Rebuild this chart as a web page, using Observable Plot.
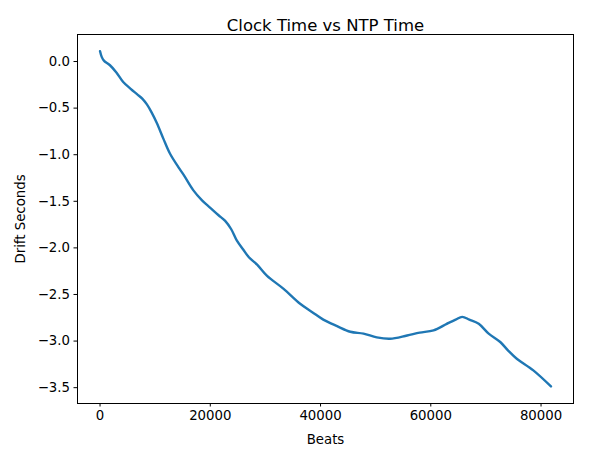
<!DOCTYPE html>
<html>
<head>
<meta charset="utf-8">
<script src="https://cdn.jsdelivr.net/npm/d3@7"></script>
<script src="https://cdn.jsdelivr.net/npm/@observablehq/plot@0.6"></script>
<style>
  html, body { margin: 0; padding: 0; background: #fff; }
  svg { display: block; }
</style>
</head>
<body>
<div id="chart"></div>
<script>
const beats = [0, 300, 700, 1800, 3000, 4200, 5500, 6700, 7700, 8500, 9300, 10300, 11500, 12700, 14400, 15200, 16900, 18500, 20000, 21500, 22700, 23800, 24800, 26000, 27000, 28500, 30300, 33300, 36300, 38500, 40500, 43000, 45400, 47800, 50200, 52600, 55700, 58000, 60500, 62900, 64500, 65700, 67000, 68700, 70500, 72600, 74000, 75600, 78600, 81800];
const drift = [0.11, 0.05, 0.01, -0.04, -0.12, -0.22, -0.29, -0.35, -0.40, -0.46, -0.54, -0.66, -0.83, -0.99, -1.15, -1.22, -1.38, -1.49, -1.57, -1.65, -1.71, -1.80, -1.92, -2.02, -2.10, -2.18, -2.30, -2.44, -2.60, -2.69, -2.77, -2.84, -2.90, -2.92, -2.96, -2.975, -2.94, -2.91, -2.885, -2.815, -2.77, -2.74, -2.77, -2.815, -2.92, -3.01, -3.10, -3.19, -3.315, -3.487];
const xTicks = [0, 20000, 40000, 60000, 80000];
const yTicks = [0.0, -0.5, -1.0, -1.5, -2.0, -2.5, -3.0, -3.5];
const title = "Clock Time vs NTP Time";
const xLabel = "Beats";
const yLabel = "Drift Seconds";

const data = beats.map((b, i) => ({beats: b, drift: drift[i]}));

const chart = Plot.plot({
  width: 611,
  height: 449,
  marginLeft: 77,
  marginRight: 38,
  marginTop: 34,
  marginBottom: 46,
  style: {fontFamily: "DejaVu Sans, sans-serif", fontSize: "13.3px", color: "#000", background: "#fff"},
  x: {domain: [-4090, 85890], ticks: xTicks, tickFormat: d3.format("d"), tickSize: 3.5, tickPadding: 4,
      label: xLabel, labelAnchor: "center", labelArrow: "none", labelOffset: 40},
  y: {domain: [-3.67, 0.29], ticks: yTicks, tickFormat: d3.format(".1f"), tickSize: 3.5, tickPadding: 4,
      label: yLabel, labelAnchor: "center", labelArrow: "none", labelOffset: 62},
  marks: [
    Plot.frame({stroke: "#000", strokeWidth: 1}),
    Plot.line(data, {x: "beats", y: "drift", stroke: "#1f77b4", strokeWidth: 2.4, curve: "catmull-rom"}),
    Plot.text([title], {frameAnchor: "top", dy: -15, text: d => d, fontSize: 16.5, fill: "#000"})
  ]
});
document.getElementById("chart").appendChild(chart);
</script>
</body>
</html>
